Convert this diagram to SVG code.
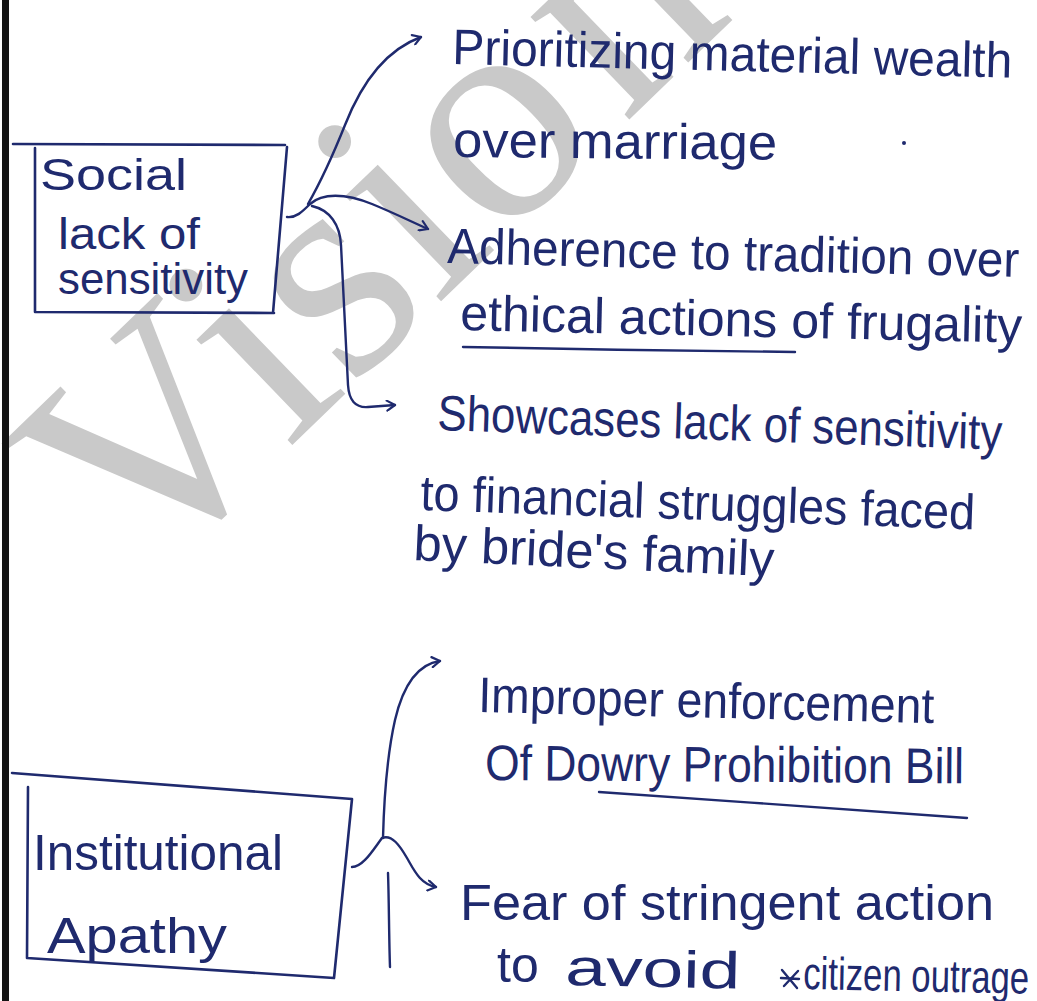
<svg xmlns="http://www.w3.org/2000/svg" width="1037" height="1001" viewBox="0 0 1037 1001">
  <style>
    .ink { fill: #1f2a6e; font-family: "Liberation Sans", Arial, sans-serif; }
    .hw { font-size: 50px; }
    .bx { font-size: 44px; }
    .box { fill: none; stroke: #1f2a6e; stroke-width: 2.6; stroke-linejoin: round; stroke-linecap: round; }
    .con { fill: none; stroke: #1f2a6e; stroke-width: 2.4; stroke-linecap: round; stroke-linejoin: round; }
    .ul { fill: none; stroke: #1f2a6e; stroke-width: 2.4; stroke-linecap: round; }
    .wm { fill: #c9c9c9; font-family: "Liberation Serif", "Times New Roman", serif; font-size: 310px; }
  </style>
  <defs>
    <marker id="arr" viewBox="0 0 12 12" refX="10" refY="6" markerWidth="12" markerHeight="12" markerUnits="userSpaceOnUse" orient="auto">
      <path d="M2,1 L10,6 L2,11" fill="none" stroke="#1f2a6e" stroke-width="2.2" stroke-linecap="round" stroke-linejoin="round"/>
    </marker>
  </defs>

  <rect x="0" y="0" width="1037" height="1001" fill="#ffffff"/>

  <!-- watermark -->
  <g id="watermark">
    <text class="wm" transform="translate(140,592) rotate(-44)">Visio<tspan dx="20">n</tspan></text>
  </g>

  <!-- page edge -->
  <rect x="2" y="0" width="7" height="1001" fill="#141414"/>

  <!-- connectors -->
  <g id="connectors">
    <path class="con" d="M287,217 C296,218 302,212 310,204"/>
    <path class="con" marker-end="url(#arr)" d="M308,204 C324,176 335,150 345,125 C358,92 380,52 421,37"/>
    <path class="con" marker-end="url(#arr)" d="M310,204 C322,193 345,193 372,204 C394,213 410,221 428,229"/>
    <path class="con" marker-end="url(#arr)" d="M312,206 C330,210 340,225 341,245 L348,385 C349,400 355,408 368,407 L395,405"/>

    <path class="con" d="M352,867 C363,867 373,850 382,838"/>
    <path class="con" marker-end="url(#arr)" d="M383,838 C384,800 386,760 395,720 C403,686 418,664 440,661"/>
    <path class="con" marker-end="url(#arr)" d="M382,838 C392,834 400,846 407,858 C414,870 420,884 436,887"/>
    <path class="con" d="M388,873 C389,900 389,940 390,967"/>
  </g>

  <!-- node 1 -->
  <g id="node-social">
    <path class="box" d="M13,144 L285,145 M35,148 L35,312 L274,313 M287,147 L273,313"/>
    <text class="ink bx" x="40" y="190" textLength="147" lengthAdjust="spacingAndGlyphs">Social</text>
    <text class="ink bx" x="58" y="249" textLength="142" lengthAdjust="spacingAndGlyphs">lack of</text>
    <text class="ink bx" x="58" y="294" textLength="190" lengthAdjust="spacingAndGlyphs">sensitivity</text>
  </g>

  <!-- node 2 -->
  <g id="node-institutional">
    <path class="box" d="M12,773 L352,799 L334,978 L27,958 L28,787"/>
    <text class="ink hw" x="33" y="870" textLength="250" lengthAdjust="spacingAndGlyphs">Institutional</text>
    <text class="ink hw" x="47" y="953" textLength="180" lengthAdjust="spacingAndGlyphs">Apathy</text>
  </g>

  <!-- branch texts of node 1 -->
  <g id="t-prioritizing">
    <text class="ink hw" x="452" y="64" transform="rotate(1.4 452 64)" textLength="560" lengthAdjust="spacingAndGlyphs">Prioritizing material wealth</text>
    <text class="ink hw" x="453" y="157" transform="rotate(0.5 453 157)" textLength="324" lengthAdjust="spacingAndGlyphs">over marriage</text>
    <circle cx="904" cy="143" r="2" fill="#1f2a6e"/>
  </g>
  <g id="t-adherence">
    <text class="ink hw" x="447" y="263" transform="rotate(1.4 447 263)" textLength="572" lengthAdjust="spacingAndGlyphs">Adherence to tradition over</text>
    <text class="ink hw" x="460" y="330" transform="rotate(1.3 460 330)" textLength="562" lengthAdjust="spacingAndGlyphs">ethical actions of frugality</text>
    <path class="ul" d="M463,347 C570,349 690,351 795,352"/>
  </g>
  <g id="t-showcases">
    <text class="ink hw" x="437" y="430" transform="rotate(2 437 430)" textLength="565" lengthAdjust="spacingAndGlyphs">Showcases lack of sensitivity</text>
    <text class="ink hw" x="420" y="510" transform="rotate(2 420 510)" textLength="555" lengthAdjust="spacingAndGlyphs">to financial struggles faced</text>
    <text class="ink hw" x="413" y="560" transform="rotate(2.6 413 560)" textLength="361" lengthAdjust="spacingAndGlyphs">by bride's family</text>
  </g>

  <!-- branch texts of node 2 -->
  <g id="t-improper">
    <text class="ink hw" x="478" y="712" transform="rotate(1.4 478 712)" textLength="456" lengthAdjust="spacingAndGlyphs">Improper enforcement</text>
    <text class="ink hw" x="485" y="780" transform="rotate(0.4 485 780)" textLength="479" lengthAdjust="spacingAndGlyphs">Of Dowry Prohibition Bill</text>
    <path class="ul" d="M599,792 C720,800 850,810 967,818"/>
  </g>
  <g id="t-fear">
    <text class="ink hw" x="460" y="920" textLength="534" lengthAdjust="spacingAndGlyphs">Fear of stringent action</text>
    <text class="ink hw" x="497" y="982">to</text>
    <text class="ink" font-size="52" x="565" y="985" transform="rotate(1.2 565 985)" textLength="175" lengthAdjust="spacingAndGlyphs">avoid</text>
    <path class="con" d="M782,970 L797,988 M784,986 L798,971 M781,978 L799,979"/>
    <text class="ink" font-size="46" x="803" y="989" transform="rotate(1.2 803 989)" textLength="226" lengthAdjust="spacingAndGlyphs">citizen outrage</text>
  </g>
</svg>
